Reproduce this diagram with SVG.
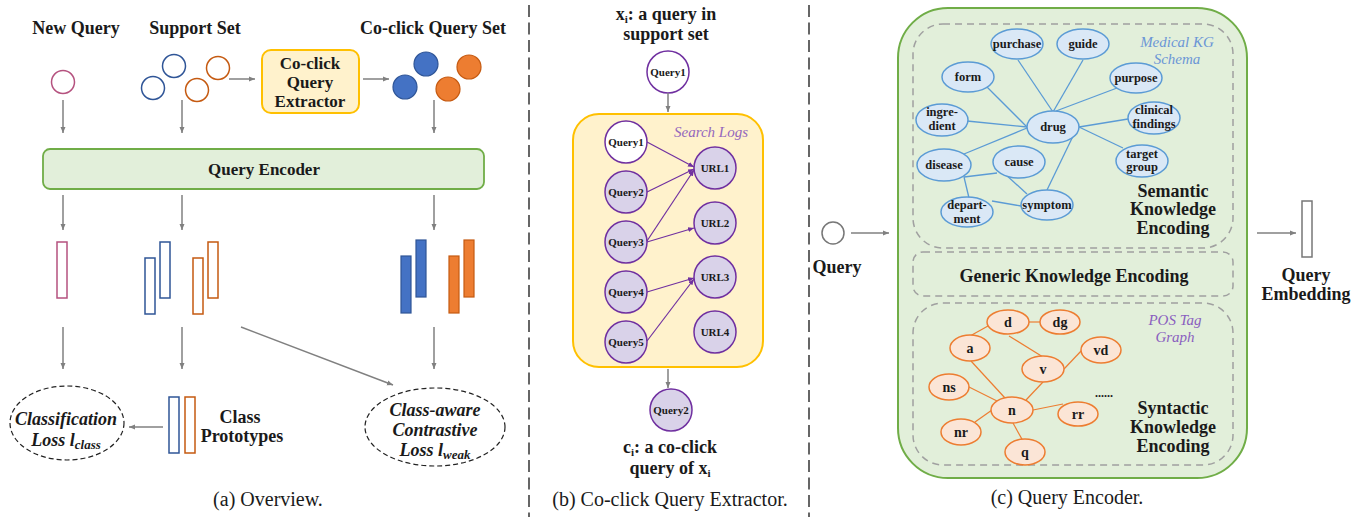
<svg xmlns="http://www.w3.org/2000/svg" width="1364" height="517" viewBox="0 0 1364 517">
<style>
text{font-family:"Liberation Serif","Times New Roman",serif;fill:#1a1a1a}
.t{font-size:18px;font-weight:bold;text-anchor:middle}
.cap{font-size:20px;text-anchor:middle}
.bi{font-size:18px;font-weight:bold;font-style:italic;text-anchor:middle}
.sm{font-size:11px;font-weight:bold;text-anchor:middle}
.kg{font-size:12.5px;font-weight:bold;text-anchor:middle}
.pos{font-size:14px;font-weight:bold;text-anchor:middle}
.arr{stroke:#808080;stroke-width:1.5;fill:none;marker-end:url(#ah)}
.parr{stroke:#7030a0;stroke-width:1.2;fill:none;marker-end:url(#ph)}
.qc{fill:#d9d2e9;stroke:#7030a0;stroke-width:1.5}
.kn{fill:#dae8f6;stroke:#5b9bd5;stroke-width:1.5}
.ke{stroke:#5b9bd5;stroke-width:1.3}
.pn{fill:#fbe5d6;stroke:#ed7d31;stroke-width:1.5}
.pe{stroke:#ed7d31;stroke-width:1.2}
.dash{fill:none;stroke:#a0a0a0;stroke-width:1.5;stroke-dasharray:7 5}
.div{stroke:#666;stroke-width:2;stroke-dasharray:12 5.5;stroke-dashoffset:-5}
.bo{fill:none;stroke:#2f5597;stroke-width:1.5}
.oo{fill:none;stroke:#c55a11;stroke-width:1.5}
.bf{fill:#4472c4;stroke:#2f5597;stroke-width:1.2}
.of{fill:#ed7d31;stroke:#c55a11;stroke-width:1.2}
</style>
<defs>
<marker id="ah" markerWidth="8" markerHeight="8" refX="6" refY="4" orient="auto" markerUnits="userSpaceOnUse"><path d="M0,1.5 L6,4 L0,6.5 z" fill="#808080"/></marker>
<marker id="ph" markerWidth="8" markerHeight="8" refX="6" refY="4" orient="auto" markerUnits="userSpaceOnUse"><path d="M0,1.5 L6,4 L0,6.5 z" fill="#7030a0"/></marker>
</defs>
<rect width="1364" height="517" fill="#fff"/>

<!-- panel dividers -->
<line class="div" x1="529" y1="0" x2="529" y2="517"/>
<line class="div" x1="809" y1="0" x2="809" y2="517"/>

<!-- ===== (a) Overview ===== -->
<g id="a-titles">
<text class="t" x="76" y="34">New Query</text>
<text class="t" x="195" y="34">Support Set</text>
<text class="t" x="433" y="34">Co-click Query Set</text>
</g>
<g id="a-new-query"><circle cx="63" cy="82" r="11.5" fill="none" stroke="#b5527f" stroke-width="1.5"/></g>
<g id="a-support-set">
<circle cx="174" cy="66" r="11.5" class="bo"/>
<circle cx="153" cy="88" r="11.5" class="bo"/>
<circle cx="218" cy="68" r="11.5" class="oo"/>
<circle cx="197" cy="90" r="11.5" class="oo"/>
</g>
<g id="a-extractor">
<rect x="262" y="50" width="97" height="63" rx="9" fill="#fff2cc" stroke="#ffc000" stroke-width="2"/>
<text class="t" x="310" y="69" style="font-size:17px">Co-click</text>
<text class="t" x="310" y="88" style="font-size:17px">Query</text>
<text class="t" x="310" y="107" style="font-size:17px">Extractor</text>
</g>
<g id="a-coclick-set">
<circle cx="426" cy="64" r="12" class="bf"/>
<circle cx="405" cy="87" r="12" class="bf"/>
<circle cx="469" cy="67" r="12" class="of"/>
<circle cx="448" cy="89" r="12" class="of"/>
</g>
<g id="a-encoder">
<rect x="43" y="149" width="441" height="40" rx="7" fill="#e2efda" stroke="#70ad47" stroke-width="1.8"/>
<text class="t" x="264" y="175" style="font-size:17px">Query Encoder</text>
</g>
<g id="a-embeddings">
<rect x="57" y="242" width="10" height="56" fill="none" stroke="#b5527f" stroke-width="1.5"/>
<rect x="145" y="258" width="10" height="56" class="bo"/>
<rect x="160" y="242" width="10" height="56" class="bo"/>
<rect x="193" y="258" width="10" height="56" class="oo"/>
<rect x="208" y="242" width="10" height="56" class="oo"/>
<rect x="401" y="256" width="10" height="57" class="bf"/>
<rect x="416" y="240" width="10" height="57" class="bf"/>
<rect x="449" y="256" width="10" height="57" class="of"/>
<rect x="464" y="240" width="10" height="57" class="of"/>
</g>
<g id="a-prototypes">
<rect x="169" y="397" width="10" height="56" class="bo"/>
<rect x="185" y="397" width="10" height="56" class="oo"/>
<text class="t" x="240" y="423">Class</text>
<text class="t" x="242" y="442">Prototypes</text>
</g>
<g id="a-class-loss">
<ellipse cx="67" cy="423" rx="57" ry="37" fill="none" stroke="#222" stroke-width="1.2" stroke-dasharray="5 3"/>
<text class="bi" x="66" y="425">Classification</text>
<text class="bi" x="66" y="446">Loss l<tspan dy="3" font-size="13">class</tspan></text>
</g>
<g id="a-contrastive-loss">
<ellipse cx="435" cy="427" rx="70" ry="39" fill="none" stroke="#222" stroke-width="1.2" stroke-dasharray="5 3"/>
<text class="bi" x="435" y="416">Class-aware</text>
<text class="bi" x="435" y="436">Contrastive</text>
<text class="bi" x="435" y="456">Loss l<tspan dy="3" font-size="13">weak</tspan></text>
</g>
<g id="a-connectors">
<line class="arr" x1="229" y1="79" x2="255" y2="79"/>
<line class="arr" x1="363" y1="79" x2="389" y2="79"/>
<line class="arr" x1="63" y1="100" x2="63" y2="133"/>
<line class="arr" x1="182" y1="100" x2="182" y2="133"/>
<line class="arr" x1="434" y1="100" x2="434" y2="133"/>
<line class="arr" x1="63" y1="195" x2="63" y2="230"/>
<line class="arr" x1="182" y1="195" x2="182" y2="230"/>
<line class="arr" x1="434" y1="195" x2="434" y2="230"/>
<line class="arr" x1="63" y1="327" x2="63" y2="369"/>
<line class="arr" x1="182" y1="327" x2="182" y2="369"/>
<line class="arr" x1="434" y1="327" x2="434" y2="369"/>
<line class="arr" x1="241" y1="327" x2="393" y2="385"/>
<line class="arr" x1="163" y1="427" x2="129" y2="427"/>
</g>
<text class="cap" x="268" y="506">(a) Overview.</text>

<!-- ===== (b) Co-click Query Extractor ===== -->
<g id="b-title">
<text class="t" x="666" y="20">x<tspan dy="3" font-size="11">i</tspan><tspan dy="-3">: a query in</tspan></text>
<text class="t" x="666" y="40">support set</text>
</g>
<g id="b-query-top">
<circle cx="668" cy="72" r="21" fill="#fff" stroke="#7030a0" stroke-width="1.5"/>
<text class="sm" x="668" y="76">Query1</text>
</g>
<g id="b-search-logs">
<rect x="573" y="114" width="190" height="253" rx="26" fill="#fff2cc" stroke="#ffc000" stroke-width="2"/>
<text x="711" y="137" style="font-size:15px;font-style:italic;text-anchor:middle;fill:#9467bd">Search Logs</text>
</g>
<g id="b-q1"><circle cx="626" cy="142" r="21" fill="#fff" stroke="#7030a0" stroke-width="1.5"/><text class="sm" x="626" y="146">Query1</text></g>
<g id="b-q2"><circle cx="626" cy="192" r="21" class="qc"/><text class="sm" x="626" y="196">Query2</text></g>
<g id="b-q3"><circle cx="626" cy="242" r="21" class="qc"/><text class="sm" x="626" y="246">Query3</text></g>
<g id="b-q4"><circle cx="626" cy="292" r="21" class="qc"/><text class="sm" x="626" y="296">Query4</text></g>
<g id="b-q5"><circle cx="626" cy="342" r="21" class="qc"/><text class="sm" x="626" y="346">Query5</text></g>
<g id="b-url1"><circle cx="715" cy="168" r="21" class="qc"/><text class="sm" x="715" y="172">URL1</text></g>
<g id="b-url2"><circle cx="715" cy="223" r="21" class="qc"/><text class="sm" x="715" y="227">URL2</text></g>
<g id="b-url3"><circle cx="715" cy="277" r="21" class="qc"/><text class="sm" x="715" y="281">URL3</text></g>
<g id="b-url4"><circle cx="715" cy="332" r="21" class="qc"/><text class="sm" x="715" y="336">URL4</text></g>
<g id="b-query-bottom">
<circle cx="671" cy="410" r="21" class="qc"/>
<text class="sm" x="671" y="414">Query2</text>
</g>
<g id="b-connectors">
<line class="arr" x1="668" y1="93" x2="668" y2="112"/>
<line class="arr" x1="668" y1="369" x2="668" y2="388"/>
<line class="parr" x1="647" y1="142" x2="694" y2="167"/>
<line class="parr" x1="647" y1="192" x2="694" y2="169"/>
<line class="parr" x1="647" y1="241" x2="694" y2="170"/>
<line class="parr" x1="647" y1="242" x2="694" y2="228"/>
<line class="parr" x1="647" y1="292" x2="694" y2="278"/>
<line class="parr" x1="647" y1="341" x2="694" y2="279"/>
</g>
<g id="b-result">
<text class="t" x="670" y="453">c<tspan dy="3" font-size="11">i</tspan><tspan dy="-3">: a co-click</tspan></text>
<text class="t" x="670" y="474">query of x<tspan dy="3" font-size="11">i</tspan></text>
</g>
<text class="cap" x="670" y="506">(b) Co-click Query Extractor.</text>

<!-- ===== (c) Query Encoder ===== -->
<g id="c-input">
<circle cx="833" cy="233" r="11" fill="none" stroke="#777" stroke-width="1.5"/>
<text class="t" x="837" y="273">Query</text>
</g>
<g id="c-encoder">
<rect x="898" y="8" width="349" height="470" rx="50" fill="#e2efda" stroke="#70ad47" stroke-width="2"/>
<rect class="dash" x="913" y="24" width="320" height="224" rx="30"/>
<rect class="dash" x="913" y="252" width="320" height="44" rx="10"/>
<rect class="dash" x="913" y="303" width="320" height="162" rx="30"/>
<text class="t" x="1074" y="282">Generic Knowledge Encoding</text>
</g>
<g id="c-kg-edges">
<line class="ke" x1="1018" y1="60" x2="1053" y2="112"/>
<line class="ke" x1="1083" y1="60" x2="1053" y2="112"/>
<line class="ke" x1="1117" y1="88" x2="1056" y2="111"/>
<line class="ke" x1="987" y1="87" x2="1027" y2="127"/>
<line class="ke" x1="967" y1="121" x2="1027" y2="127"/>
<line class="ke" x1="964" y1="154" x2="1027" y2="128"/>
<line class="ke" x1="1079" y1="127" x2="1128" y2="119"/>
<line class="ke" x1="1079" y1="127" x2="1123" y2="148"/>
<line class="ke" x1="1075" y1="132" x2="1047" y2="190"/>
<line class="ke" x1="964" y1="177" x2="997" y2="173"/>
<line class="ke" x1="964" y1="177" x2="969" y2="198"/>
<line class="ke" x1="1004" y1="173" x2="1027" y2="194"/>
<line class="ke" x1="992" y1="201" x2="1021" y2="206"/>
</g>
<g id="c-kg-purchase"><ellipse class="kn" cx="1017" cy="44" rx="26" ry="15"/><text class="kg" x="1017" y="48">purchase</text></g>
<g id="c-kg-guide"><ellipse class="kn" cx="1083" cy="44" rx="26" ry="15"/><text class="kg" x="1083" y="48">guide</text></g>
<g id="c-kg-purpose"><ellipse class="kn" cx="1136" cy="78" rx="26" ry="15"/><text class="kg" x="1136" y="82">purpose</text></g>
<g id="c-kg-form"><ellipse class="kn" cx="968" cy="77" rx="26" ry="15"/><text class="kg" x="968" y="81">form</text></g>
<g id="c-kg-ingredient"><ellipse class="kn" cx="942" cy="120" rx="26" ry="16"/><text class="kg" x="942" y="116">ingre-</text><text class="kg" x="942" y="130">dient</text></g>
<g id="c-kg-drug"><ellipse class="kn" cx="1053" cy="127" rx="26" ry="16"/><text class="kg" x="1053" y="131">drug</text></g>
<g id="c-kg-clinical"><ellipse class="kn" cx="1154" cy="118" rx="26" ry="16"/><text class="kg" x="1154" y="114">clinical</text><text class="kg" x="1154" y="128">findings</text></g>
<g id="c-kg-target"><ellipse class="kn" cx="1142" cy="161" rx="26" ry="16"/><text class="kg" x="1142" y="158">target</text><text class="kg" x="1142" y="171">group</text></g>
<g id="c-kg-disease"><ellipse class="kn" cx="944" cy="165" rx="27" ry="16"/><text class="kg" x="944" y="169">disease</text></g>
<g id="c-kg-cause"><ellipse class="kn" cx="1019" cy="162" rx="26" ry="16"/><text class="kg" x="1019" y="166">cause</text></g>
<g id="c-kg-symptom"><ellipse class="kn" cx="1047" cy="205" rx="26" ry="15"/><text class="kg" x="1047" y="209">symptom</text></g>
<g id="c-kg-department"><ellipse class="kn" cx="967" cy="212" rx="26" ry="15"/><text class="kg" x="967" y="209">depart-</text><text class="kg" x="967" y="223">ment</text></g>
<g id="c-kg-labels">
<text x="1177" y="47" style="font-size:15px;font-style:italic;text-anchor:middle;fill:#6b96d6">Medical KG</text>
<text x="1177" y="64" style="font-size:15px;font-style:italic;text-anchor:middle;fill:#6b96d6">Schema</text>
<text class="t" x="1173" y="197">Semantic</text>
<text class="t" x="1173" y="215">Knowledge</text>
<text class="t" x="1173" y="234">Encoding</text>
</g>
<g id="c-pos-edges">
<line class="pe" x1="970" y1="336" x2="988" y2="326"/>
<line class="pe" x1="1029" y1="322" x2="1040" y2="322"/>
<line class="pe" x1="1009" y1="336" x2="1043" y2="357"/>
<line class="pe" x1="971" y1="361" x2="1005" y2="398" stroke-width="2.2"/>
<line class="pe" x1="1064" y1="369" x2="1082" y2="350"/>
<line class="pe" x1="1043" y1="382" x2="1026" y2="400"/>
<line class="pe" x1="969" y1="387" x2="997" y2="401"/>
<line class="pe" x1="1033" y1="410" x2="1063" y2="404" stroke-width="2.2"/>
<line class="pe" x1="992" y1="410" x2="975" y2="422"/>
<line class="pe" x1="1013" y1="423" x2="1023" y2="441"/>
</g>
<g id="c-pos-d"><ellipse class="pn" cx="1008" cy="322" rx="21" ry="12"/><text class="pos" x="1008" y="327">d</text></g>
<g id="c-pos-dg"><ellipse class="pn" cx="1060" cy="322" rx="20" ry="12"/><text class="pos" x="1060" y="327">dg</text></g>
<g id="c-pos-a"><ellipse class="pn" cx="970" cy="348" rx="20" ry="13"/><text class="pos" x="970" y="353">a</text></g>
<g id="c-pos-vd"><ellipse class="pn" cx="1101" cy="350" rx="20" ry="13"/><text class="pos" x="1101" y="355">vd</text></g>
<g id="c-pos-v"><ellipse class="pn" cx="1043" cy="369" rx="21" ry="13"/><text class="pos" x="1043" y="374">v</text></g>
<g id="c-pos-ns"><ellipse class="pn" cx="949" cy="387" rx="20" ry="13"/><text class="pos" x="949" y="392">ns</text></g>
<g id="c-pos-n"><ellipse class="pn" cx="1012" cy="410" rx="21" ry="13"/><text class="pos" x="1012" y="415">n</text></g>
<g id="c-pos-rr"><ellipse class="pn" cx="1078" cy="414" rx="20" ry="12"/><text class="pos" x="1078" y="419">rr</text></g>
<g id="c-pos-nr"><ellipse class="pn" cx="961" cy="432" rx="20" ry="13"/><text class="pos" x="961" y="437">nr</text></g>
<g id="c-pos-q"><ellipse class="pn" cx="1025" cy="452" rx="20" ry="13"/><text class="pos" x="1025" y="457">q</text></g>
<g id="c-pos-labels">
<text x="1104" y="397" style="font-size:12px;font-weight:bold;text-anchor:middle">......</text>
<text x="1175" y="325" style="font-size:15px;font-style:italic;text-anchor:middle;fill:#8a5fbf">POS Tag</text>
<text x="1175" y="342" style="font-size:15px;font-style:italic;text-anchor:middle;fill:#8a5fbf">Graph</text>
<text class="t" x="1173" y="414">Syntactic</text>
<text class="t" x="1173" y="433">Knowledge</text>
<text class="t" x="1173" y="452">Encoding</text>
</g>
<g id="c-output">
<rect x="1302" y="201" width="10" height="56" fill="none" stroke="#777" stroke-width="1.5"/>
<text class="t" x="1306" y="281">Query</text>
<text class="t" x="1306" y="300">Embedding</text>
</g>
<g id="c-connectors">
<line class="arr" x1="851" y1="233" x2="889" y2="233"/>
<line class="arr" x1="1257" y1="233" x2="1296" y2="233"/>
</g>
<text class="cap" x="1067" y="504">(c) Query Encoder.</text>
</svg>
